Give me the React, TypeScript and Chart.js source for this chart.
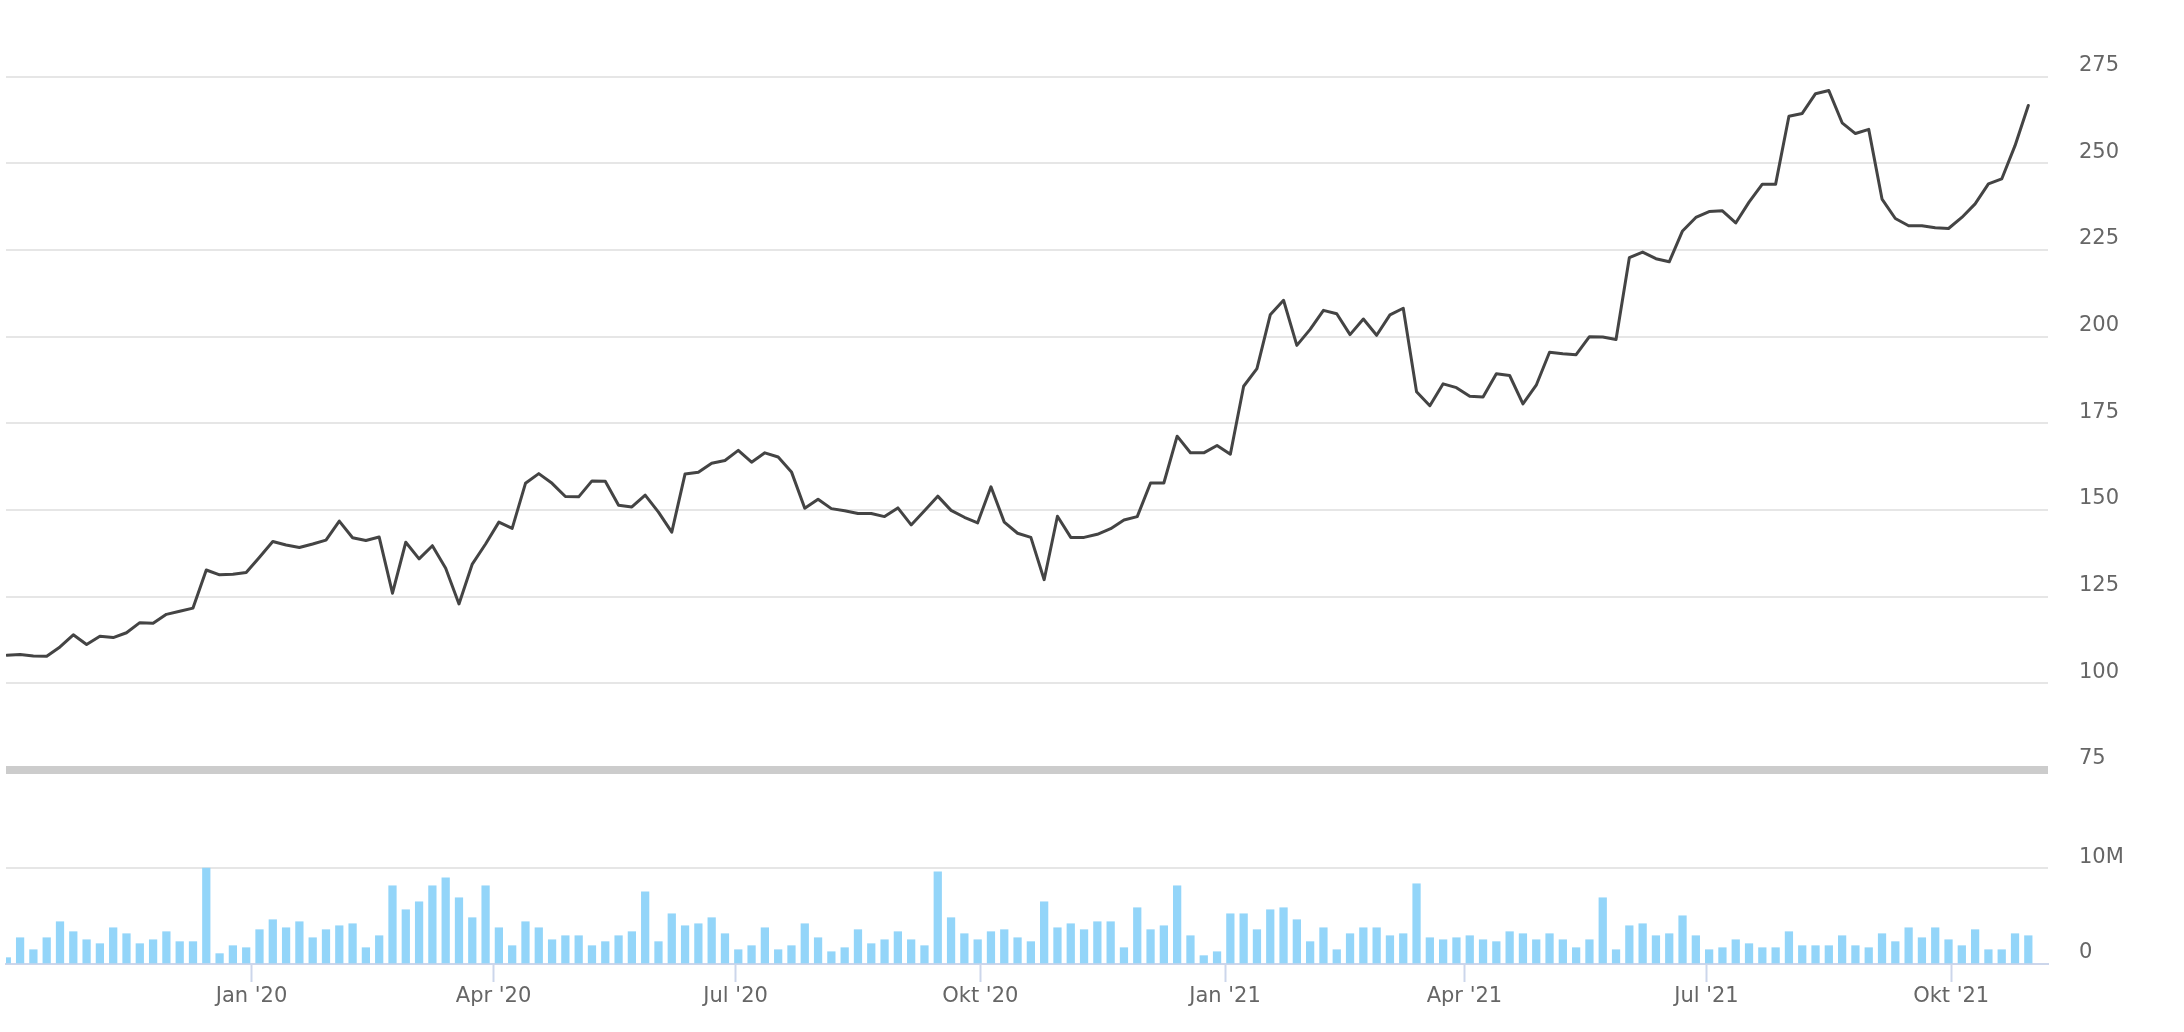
import React, { useEffect, useRef } from 'react';
import { Chart, registerables } from 'chart.js';

Chart.register(...registerables);

// ---- data ----
const START_DATE = '2019-10-01';
const STEP_DAYS = 5;

const prices: number[] = [
  108.1, 108.3, 107.9, 107.8, 110.5, 114.0, 111.2, 113.6, 113.2, 114.6,
  117.5, 117.3, 119.9, 120.8, 121.7, 132.7, 131.3, 131.5, 132.0, 136.4,
  140.9, 139.9, 139.2, 140.2, 141.3, 146.8, 142.0, 141.2, 142.2, 126.0,
  140.7, 135.9, 139.7, 133.2, 122.9, 134.4, 140.2, 146.5, 144.7, 157.7,
  160.5, 157.7, 153.9, 153.8, 158.4, 158.3, 151.4, 150.9, 154.3, 149.4,
  143.6, 160.4, 160.9, 163.5, 164.3, 167.2, 163.8, 166.5, 165.3, 161.0,
  150.5, 153.1, 150.4, 149.8, 149.0, 149.0, 148.1, 150.6, 145.7, 149.8,
  154.0, 149.9, 147.9, 146.3, 156.7, 146.5, 143.3, 142.1, 129.9, 148.2,
  142.1, 142.1, 143.0, 144.6, 147.1, 148.1, 157.8, 157.8, 171.3, 166.5,
  166.5, 168.6, 166.1, 185.7, 190.8, 206.3, 210.5, 197.5, 202.1, 207.6,
  206.6, 200.6, 205.1, 200.4, 206.3, 208.2, 184.1, 180.1, 186.4, 185.3,
  182.8, 182.6, 189.3, 188.8, 180.6, 186.0, 195.5, 195.1, 194.8, 200.0,
  199.9, 199.2, 222.8, 224.4, 222.5, 221.6, 230.5, 234.4, 236.1, 236.3,
  232.8, 238.8, 244.0, 244.0, 263.6, 264.4, 270.1, 271.0, 261.7, 258.6,
  259.8, 239.7, 234.1, 232.0, 232.0, 231.4, 231.2, 234.4, 238.3, 244.1,
  245.5, 255.1, 266.7,
];

// volume in millions
const volumes: number[] = [
  0.66, 2.74, 1.49, 2.74, 4.41, 3.37, 2.53, 2.12, 3.78, 3.16,
  2.12, 2.53, 3.37, 2.33, 2.33, 10.0, 1.08, 1.91, 1.70, 3.58,
  4.62, 3.78, 4.41, 2.74, 3.58, 3.99, 4.20, 1.70, 2.95, 8.16,
  5.66, 6.49, 8.16, 8.99, 6.91, 4.83, 8.16, 3.78, 1.91, 4.41,
  3.78, 2.53, 2.95, 2.95, 1.91, 2.33, 2.95, 3.37, 7.53, 2.33,
  5.24, 3.99, 4.20, 4.83, 3.16, 1.49, 1.91, 3.78, 1.49, 1.91,
  4.20, 2.74, 1.28, 1.70, 3.58, 2.12, 2.53, 3.37, 2.53, 1.91,
  9.62, 4.83, 3.16, 2.53, 3.37, 3.58, 2.74, 2.33, 6.49, 3.78,
  4.20, 3.58, 4.41, 4.41, 1.70, 5.87, 3.58, 3.99, 8.16, 2.95,
  0.87, 1.28, 5.24, 5.24, 3.58, 5.66, 5.87, 4.62, 2.33, 3.78,
  1.49, 3.16, 3.78, 3.78, 2.95, 3.16, 8.37, 2.74, 2.53, 2.74,
  2.95, 2.53, 2.33, 3.37, 3.16, 2.53, 3.16, 2.53, 1.70, 2.53,
  6.91, 1.49, 3.99, 4.20, 2.95, 3.16, 5.03, 2.95, 1.49, 1.70,
  2.53, 2.12, 1.70, 1.70, 3.37, 1.91, 1.91, 1.91, 2.95, 1.91,
  1.70, 3.16, 2.33, 3.78, 2.74, 3.78, 2.53, 1.91, 3.58, 1.49,
  1.49, 3.16, 2.95,
];

const priceTicks: number[] = [75, 100, 125, 150, 175, 200, 225, 250, 275];
const volumeTicks: number[] = [0, 10];
const xTickDates: string[] = [
  '2020-01-01', '2020-04-01', '2020-07-01', '2020-10-01',
  '2021-01-01', '2021-04-01', '2021-07-01', '2021-10-01',
];
const xTickLabels: string[] = [
  "Jan '20", "Apr '20", "Jul '20", "Okt '20",
  "Jan '21", "Apr '21", "Jul '21", "Okt '21",
];

const DAY_MS = 86400000;
const dayOf = (d: string) => Math.round((Date.parse(d) - Date.parse(START_DATE)) / DAY_MS);
const xTickDays = xTickDates.map(dayOf);

const FONT = '"DejaVu Sans", "Lucida Grande", sans-serif';
const LABEL_COLOR = '#666666';

export default function App() {
  const ref = useRef<HTMLCanvasElement | null>(null);

  useEffect(() => {
    if (!ref.current) return;
    const priceData = prices.map((p, i) => ({ x: i * STEP_DAYS, y: p }));
    const volumeData = volumes.map((v, i) => ({ x: i * STEP_DAYS, y: v }));

    const chart = new Chart(ref.current, {
      type: 'line',
      data: {
        datasets: [
          {
            type: 'line',
            data: priceData,
            yAxisID: 'price',
            xAxisID: 'x',
            borderColor: '#444444',
            borderWidth: 3,
            pointRadius: 0,
            tension: 0,
            borderJoinStyle: 'round',
            borderCapStyle: 'round',
            fill: false,
            order: 1,
          } as any,
          {
            type: 'bar',
            data: volumeData,
            yAxisID: 'volume',
            xAxisID: 'x',
            backgroundColor: '#93d5f9',
            borderWidth: 0,
            barThickness: 7.6,
            order: 2,
          } as any,
        ],
      },
      options: {
        responsive: false,
        animation: false,
        devicePixelRatio: 1,
        layout: { padding: { left: 6, top: 24, right: 0, bottom: 0 } },
        plugins: {
          legend: { display: false },
          tooltip: { enabled: false },
        },
        scales: {
          x: {
            type: 'linear',
            position: 'bottom',
            min: -0.3,
            max: 767.4,
            offset: false,
            afterBuildTicks: (s: any) => {
              s.ticks = xTickDays.map((v) => ({ value: v }));
            },
            afterFit: (s: any) => {
              s.height = 68;
            },
            grid: {
              offset: false,
              drawOnChartArea: false,
              drawTicks: true,
              tickLength: 18,
              tickColor: '#ccd6eb',
              tickWidth: 2,
            },
            border: { display: true, color: '#ccd6eb', width: 2 },
            ticks: {
              autoSkip: false,
              maxRotation: 0,
              minRotation: 0,
              padding: 4,
              color: LABEL_COLOR,
              font: { size: 21, family: FONT, lineHeight: 1 },
              callback: (v: any) => {
                const idx = xTickDays.indexOf(Number(v));
                return idx >= 0 ? xTickLabels[idx] : '';
              },
            },
          },
          price: {
            type: 'linear',
            position: 'right',
            stack: 'y',
            stackWeight: 746,
            min: 75,
            max: 290.2,
            offset: false,
            afterBuildTicks: (s: any) => {
              s.ticks = priceTicks.map((v) => ({ value: v }));
            },
            afterFit: (s: any) => {
              s.width = 136;
            },
            border: { display: false },
            grid: {
              offset: false,
              color: (ctx: any) => (ctx.tick && ctx.tick.value === 75 ? '#cccccc' : '#e6e6e6'),
              lineWidth: (ctx: any) => (ctx.tick && ctx.tick.value === 75 ? 8 : 2),
              drawTicks: true,
              tickLength: 31,
              tickColor: 'rgba(0,0,0,0)',
            },
            ticks: {
              autoSkip: false,
              padding: 0,
              labelOffset: -11,
              crossAlign: 'near',
              color: LABEL_COLOR,
              font: { size: 21, family: FONT, lineHeight: 1 },
              callback: (v: any) => String(v),
            },
          },
          volume: {
            type: 'linear',
            position: 'right',
            stack: 'y',
            stackWeight: 194,
            min: 0,
            max: 20.24,
            offset: false,
            afterBuildTicks: (s: any) => {
              s.ticks = volumeTicks.map((v) => ({ value: v }));
            },
            afterFit: (s: any) => {
              s.width = 136;
            },
            border: { display: false },
            grid: {
              offset: false,
              color: (ctx: any) => (ctx.tick && ctx.tick.value === 0 ? 'rgba(0,0,0,0)' : '#e6e6e6'),
              lineWidth: 2,
              drawTicks: true,
              tickLength: 31,
              tickColor: 'rgba(0,0,0,0)',
            },
            ticks: {
              autoSkip: false,
              padding: 0,
              labelOffset: -11,
              crossAlign: 'near',
              color: LABEL_COLOR,
              font: { size: 21, family: FONT, lineHeight: 1 },
              callback: (v: any) => (Number(v) === 0 ? '0' : `${v}M`),
            },
          },
        } as any,
      },
    });

    return () => {
      chart.destroy();
    };
  }, []);

  return (
    <div
      style={{
        position: 'fixed',
        left: 0,
        top: 0,
        width: 2184,
        height: 1032,
        background: '#ffffff',
      }}
    >
      <canvas ref={ref} width={2184} height={1032} style={{ width: 2184, height: 1032, display: 'block' }} />
    </div>
  );
}
